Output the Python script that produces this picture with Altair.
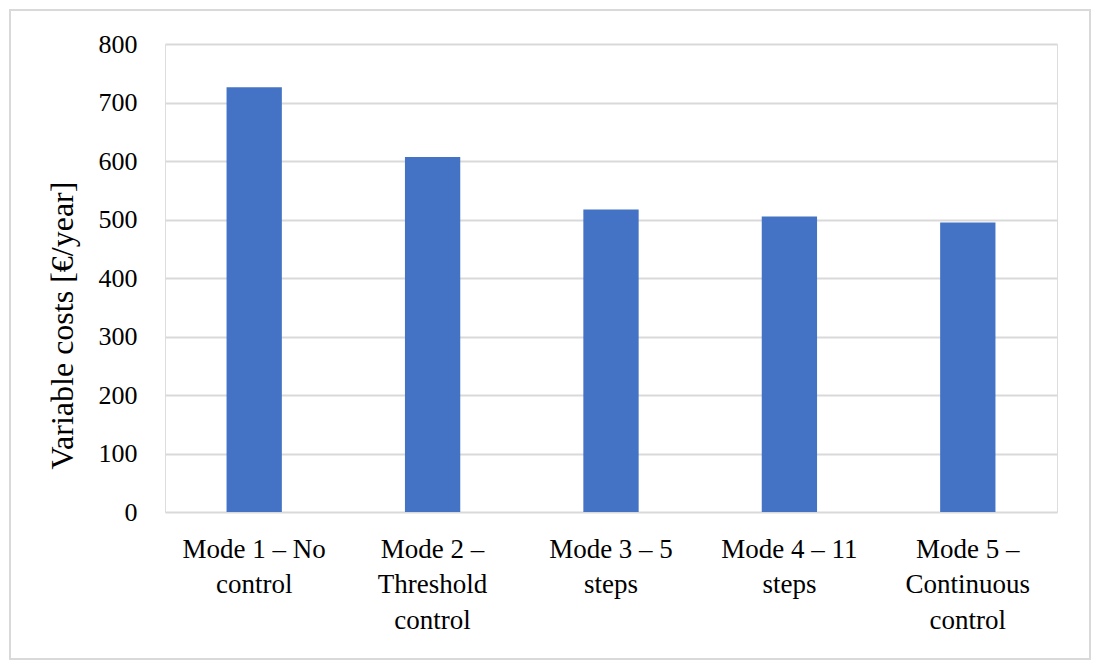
import altair as alt
import pandas as pd

categories = ["Mode 1 – No|control", "Mode 2 –|Threshold|control", "Mode 3 – 5|steps",
              "Mode 4 – 11|steps", "Mode 5 –|Continuous|control"]
values = [726, 607, 517, 505, 495]
y_ticks = [0, 100, 200, 300, 400, 500, 600, 700, 800]

df = pd.DataFrame({"mode": categories, "cost": values})

FONT = "Liberation Serif"
GRID = "#d9d9d9"

bars = alt.Chart(df).mark_bar(color="#4472C4").encode(
    x=alt.X("mode:N", sort=categories,
            scale=alt.Scale(paddingInner=0.69, paddingOuter=0.345),
            axis=alt.Axis(title=None, labelAngle=0, ticks=False, domain=False,
                          labelExpr="split(datum.label, '|')",
                          labelFont=FONT, labelFontSize=27, labelColor="#000000",
                          labelLineHeight=35.5, labelPadding=24, labelBaseline="top")),
    y=alt.Y("cost:Q", scale=alt.Scale(domain=[0, 800], nice=False),
            axis=alt.Axis(title="Variable costs [€/year]", values=y_ticks, ticks=False,
                          domain=False, gridColor=GRID, gridWidth=2,
                          labelFont=FONT, labelFontSize=26, labelColor="#000000",
                          labelPadding=28,
                          titleFont=FONT, titleFontSize=32, titleFontWeight="normal",
                          titleColor="#000000", titleAngle=270, titleAlign="center",
                          titleBaseline="middle", titleX=-103, titleY=281)),
)

border = alt.Chart(df).mark_rect(filled=False, stroke=GRID, strokeWidth=2).encode(
    x=alt.value(-155), x2=alt.value(925), y=alt.value(-34), y2=alt.value(615)
)

chart = alt.layer(border, bars).properties(
    width=892, height=468, padding={"left": 9, "top": 9, "right": 5, "bottom": 5}
).configure_view(stroke=None).configure(background="#ffffff")

chart.save("out.html", embed_options={"renderer": "svg", "actions": False})
